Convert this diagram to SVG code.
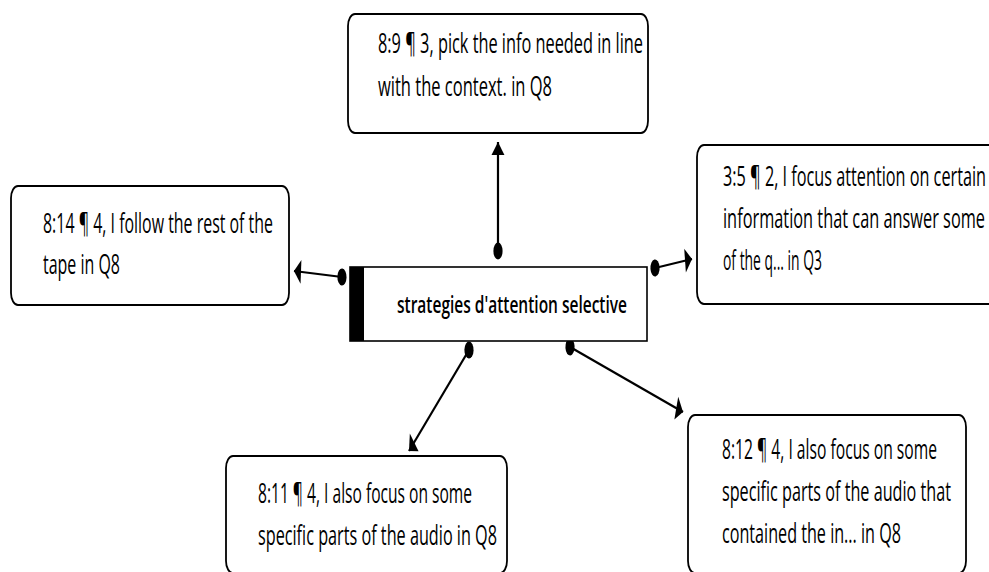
<svg xmlns="http://www.w3.org/2000/svg" width="989" height="572" viewBox="0 0 989 572">
<style>
.box{fill:#fff;stroke:#000;stroke-width:1.8}
.t{font-family:"Open Sans","Liberation Sans",sans-serif;font-size:28px;fill:#000}
.ct{font-family:"Open Sans","Liberation Sans",sans-serif;font-size:24px;font-weight:600;fill:#000}
.conn{stroke:#000;stroke-width:2.2;fill:none;vector-effect:non-scaling-stroke;marker-start:url(#dot);marker-end:url(#arrow)}
</style>
<defs>
<marker id="arrow" viewBox="-1 -13 16 26" markerWidth="16" markerHeight="26" refX="13" refY="0" orient="auto" markerUnits="userSpaceOnUse">
<path d="M0,-12 L13,0 L0,12 Z" fill="#000"/>
</marker>
<marker id="dot" viewBox="-10 -10 20 20" markerWidth="20" markerHeight="20" refX="0" refY="0" orient="auto" markerUnits="userSpaceOnUse">
<circle cx="0" cy="0" r="8.5" fill="#000"/>
</marker>
</defs>
<rect width="989" height="572" fill="#fff"/>

<g id="connectors" transform="scale(0.54,1)">
<line class="conn" x1="922.2" y1="251" x2="922.2" y2="142"/>
<line class="conn" x1="633.3" y1="277" x2="544.4" y2="271"/>
<line class="conn" x1="1213" y1="268" x2="1281.5" y2="259"/>
<line class="conn" x1="868.5" y1="350" x2="757.4" y2="451"/>
<line class="conn" x1="1055.6" y1="347" x2="1264.8" y2="412"/>
</g>

<g id="center">
<rect class="box" x="350" y="267" width="297" height="74" style="stroke-width:1.6"/>
<rect x="350" y="267" width="14" height="74" fill="#000"/>
<text class="ct" x="397" y="313" textLength="230" lengthAdjust="spacingAndGlyphs">strategies d'attention selective</text>
</g>

<g id="n-top">
<rect class="box" x="348" y="14" width="300" height="119" rx="7" ry="12"/>
<text class="t" x="378" y="53" textLength="265" lengthAdjust="spacingAndGlyphs">8:9 ¶ 3, pick the info needed in line</text>
<text class="t" x="378" y="96" textLength="174" lengthAdjust="spacingAndGlyphs">with the context. in Q8</text>
</g>

<g id="n-left">
<rect class="box" x="11" y="186" width="278" height="119" rx="7" ry="12"/>
<text class="t" x="43" y="233" textLength="230" lengthAdjust="spacingAndGlyphs">8:14 ¶ 4, I follow the rest of the</text>
<text class="t" x="43" y="274" textLength="77" lengthAdjust="spacingAndGlyphs">tape in Q8</text>
</g>

<g id="n-right">
<rect class="box" x="697" y="145" width="310" height="159" rx="7" ry="12"/>
<text class="t" x="723" y="186" textLength="263" lengthAdjust="spacingAndGlyphs">3:5 ¶ 2, I focus attention on certain</text>
<text class="t" x="723" y="228" textLength="262" lengthAdjust="spacingAndGlyphs">information that can answer some</text>
<text class="t" x="723" y="270" textLength="99" lengthAdjust="spacingAndGlyphs">of the q... in Q3</text>
</g>

<g id="n-bottom-left">
<rect class="box" x="226" y="456" width="281" height="117" rx="7" ry="12"/>
<text class="t" x="258" y="503" textLength="214" lengthAdjust="spacingAndGlyphs">8:11 ¶ 4, I also focus on some</text>
<text class="t" x="258" y="545" textLength="239" lengthAdjust="spacingAndGlyphs">specific parts of the audio in Q8</text>
</g>

<g id="n-bottom-right">
<rect class="box" x="688" y="415" width="278" height="158" rx="7" ry="12"/>
<text class="t" x="722" y="459" textLength="215" lengthAdjust="spacingAndGlyphs">8:12 ¶ 4, I also focus on some</text>
<text class="t" x="722" y="501" textLength="229" lengthAdjust="spacingAndGlyphs">specific parts of the audio that</text>
<text class="t" x="722" y="543" textLength="179" lengthAdjust="spacingAndGlyphs">contained the in... in Q8</text>
</g>
</svg>
